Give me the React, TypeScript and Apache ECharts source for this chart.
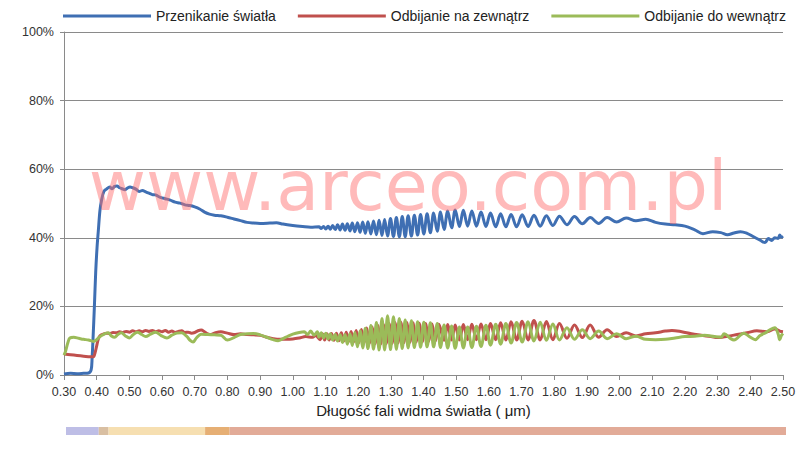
import React, { useEffect, useRef } from "react";
import * as echarts from "echarts";

const seriesNames = ["Przenikanie światła", "Odbijanie na zewnątrz", "Odbijanie do wewnątrz"];
const seriesColors = ["#3F6FB3", "#C0504D", "#9BBB59"];
const yTickLabels = ["0%", "20%", "40%", "60%", "80%", "100%"];
const xAxisTitle = "Długość fali widma światła ( μm)";
const watermark = "www.arceo.com.pl";

// spectrum bands [from, to, colour]
const spectrumBands: [number, number, string][] = [
  [0.30, 0.40, "#BEBEE6"],
  [0.40, 0.43, "#D9BFA2"],
  [0.43, 0.725, "#F6DFB1"],
  [0.725, 0.80, "#E6AF74"],
  [0.80, 2.50, "#E2AB98"],
];

const transmission: number[][] = [
  [0.30,0.3],[0.32,0.5],[0.34,0.4],[0.36,0.5],[0.375,0.6],[0.383,1.5],[0.386,5],[0.389,11],[0.393,20],[0.397,30],[0.401,37],[0.405,42],[0.410,48],[0.415,51],[0.422,53.5],[0.430,54.2],
  [0.440,54.8],[0.447,54.3],[0.455,55],[0.462,55.1],[0.470,54.6],[0.478,54.3],[0.486,54.0],[0.494,54.5],[0.502,54.8],[0.510,54.6],[0.520,54.2],[0.530,53.5],[0.540,53.8],[0.550,53.4],[0.560,53.0],[0.570,52.6],[0.580,52.5],[0.595,51.8],[0.610,51.4],[0.625,51.0],[0.640,50.4],[0.655,50.1],[0.670,49.6],[0.685,49.4],[0.700,49.0],[0.715,48.4],[0.730,47.5],[0.745,46.9],[0.760,46.6],[0.780,46.4],[0.800,46.0],[0.820,45.5],[0.840,45.0],[0.860,44.5],[0.880,44.3],[0.900,44.2],[0.930,44.3],[0.950,44.4],[0.970,44.0],[1.000,43.6],[1.030,43.3],[1.055,43.1],
  [1.080,43.2],[1.087,42.7],[1.094,43.3],[1.101,42.6],[1.108,43.4],[1.115,42.5],[1.122,43.6],[1.130,42.4],[1.137,43.8],[1.145,42.3],[1.152,44.0],[1.160,42.2],[1.167,44.1],[1.175,42.0],[1.182,44.3],[1.190,41.8],[1.198,44.4],[1.206,41.6],[1.214,44.6],[1.222,41.3],[1.230,44.7],[1.239,41.1],[1.247,44.9],[1.256,40.9],[1.264,45.1],[1.273,40.7],[1.281,45.3],[1.290,40.5],[1.299,45.6],[1.308,40.4],[1.317,45.9],[1.326,40.3],[1.335,46.2],[1.344,40.3],[1.353,46.4],[1.363,40.5],[1.372,46.6],[1.382,40.8],[1.391,46.8],[1.401,41.1],[1.411,47.0],[1.421,41.5],[1.431,47.2],[1.442,41.9],[1.452,47.5],[1.463,42.4],[1.474,47.8],[1.486,42.9],[1.497,48.1],[1.510,43.3],[1.522,48.0],[1.535,43.4],[1.548,47.8],[1.562,43.4],[1.576,47.5],[1.591,43.3],[1.605,47.2],[1.621,43.2],[1.636,47.0],[1.652,43.2],[1.668,46.8],[1.685,43.2],[1.702,46.7],[1.720,43.3],[1.738,46.6],[1.757,43.4],[1.776,46.4],[1.796,43.6],[1.816,46.3],[1.839,43.8],[1.862,46.2],[1.886,44.1],[1.910,45.9],[1.936,44.2],[1.962,45.9],[1.991,44.6],[2.020,45.8],[2.050,45.0],[2.080,45.4],
  [2.11,44.5],[2.14,44.0],[2.17,43.8],[2.20,43.4],[2.23,42.3],[2.255,41.2],[2.285,41.8],[2.31,41.5],[2.33,40.9],[2.35,41.4],[2.37,41.8],[2.39,41.3],[2.41,40.3],[2.43,39.3],[2.445,38.6],[2.455,39.8],[2.465,39.2],[2.475,40.0],[2.485,39.8],[2.49,40.8],[2.495,40.2],[2.50,40.5],
];

const reflectionOut: number[][] = [
  [0.30,6.1],[0.32,5.9],[0.34,5.7],[0.36,5.5],[0.38,5.3],[0.39,5.3],[0.395,6.5],[0.40,8.5],[0.405,10.5],[0.41,11.4],[0.42,11.9],[0.43,12.2],[0.44,12.1],[0.45,12.4],[0.46,12.3],[0.47,12.6],[0.48,12.4],[0.49,12.7],[0.50,12.5],[0.51,12.9],[0.52,12.6],[0.53,12.9],[0.54,12.6],[0.55,13.0],[0.56,12.7],[0.57,13.0],[0.58,12.6],[0.59,12.9],[0.60,12.6],[0.61,13.0],[0.62,12.5],[0.63,12.8],[0.64,12.4],[0.65,12.7],[0.66,12.9],[0.67,12.4],[0.68,12.5],[0.69,12.2],[0.70,12.4],[0.71,12.9],[0.72,13.1],[0.73,12.6],[0.74,12.0],[0.75,11.8],[0.76,12.2],[0.78,12.6],[0.80,12.2],[0.82,11.8],[0.84,12.0],[0.86,11.8],[0.88,11.7],[0.90,11.6],[0.92,11.0],[0.94,10.6],[0.96,10.4],[0.98,10.4],[1.00,10.5],[1.02,10.8],[1.04,11.2],[1.06,11.0],[1.07,11.5],
  [1.0835,10.3],[1.0905,12.0],[1.0975,10.2],[1.1045,12.0],[1.1115,10.2],[1.1185,12.1],[1.126,10.1],[1.1335,12.2],[1.141,10.0],[1.1485,12.3],[1.156,9.9],[1.1635,12.5],[1.171,9.8],[1.1785,12.7],[1.186,9.6],[1.194,13.0],[1.202,9.4],[1.210,13.3],[1.218,9.3],[1.226,13.7],[1.2345,9.2],[1.243,14.0],[1.2515,9.1],[1.260,14.4],[1.2685,9.0],[1.277,14.7],[1.2855,9.1],[1.2945,15.0],[1.3035,9.2],[1.3125,15.3],[1.3215,9.3],[1.3305,15.4],[1.3395,9.4],[1.3485,15.3],[1.358,9.5],[1.3675,15.2],[1.377,9.6],[1.3865,15.1],[1.396,9.7],[1.406,15.0],[1.416,9.8],[1.426,14.9],[1.4365,9.9],[1.447,14.8],
  [1.463,10.1],[1.474,14.7],[1.486,10.2],[1.497,14.6],[1.510,10.2],[1.522,14.7],[1.535,10.3],[1.548,14.8],[1.562,10.3],[1.576,14.9],[1.591,10.3],[1.605,15.0],[1.621,10.3],[1.636,15.2],[1.652,10.2],[1.668,15.5],[1.685,10.2],[1.702,15.7],[1.720,10.2],[1.738,15.9],[1.757,10.2],[1.776,15.6],[1.796,10.3],[1.816,15.0],[1.839,10.7],[1.862,14.6],[1.886,10.9],[1.910,14.6],[1.936,11.0],[1.962,13.2],[1.991,11.2],[2.020,12.3],[2.050,11.4],[2.080,12.0],
  [2.11,12.3],[2.14,12.8],[2.16,13.0],[2.19,12.6],[2.22,12.0],[2.25,11.6],[2.28,11.2],[2.30,10.9],[2.33,11.3],[2.36,11.8],[2.39,12.3],[2.42,12.9],[2.45,12.6],[2.475,13.4],[2.49,12.8],[2.50,12.6],
];

const reflectionIn: number[][] = [
  [0.30,5.8],[0.305,7],[0.312,9.5],[0.318,10.8],[0.33,11],[0.345,10.7],[0.36,10.4],[0.375,10.2],[0.39,9.8],[0.40,10.3],[0.41,11.2],[0.42,11.8],[0.435,12.3],[0.445,11.4],[0.455,11.0],[0.465,11.8],[0.475,12.3],[0.488,11.4],[0.50,10.8],[0.512,11.8],[0.525,12.5],[0.538,11.8],[0.55,11.2],[0.565,11.9],[0.58,12.5],[0.597,11.5],[0.615,10.8],[0.63,11.6],[0.645,12.2],[0.66,12.3],[0.675,11.3],[0.687,10.0],[0.695,9.6],[0.705,10.8],[0.72,11.9],[0.74,11.8],[0.76,11.7],[0.78,11.6],[0.80,10.2],[0.82,10.9],[0.84,11.8],[0.86,12.0],[0.88,12.1],[0.90,11.7],[0.92,11.0],[0.94,10.3],[0.955,10.0],[0.97,10.6],[0.985,11.3],[1.00,11.9],[1.02,12.4],[1.035,12.6],[1.045,11.8],[1.055,12.8],[1.065,11.6],[1.075,12.6],
  [1.080,11.0],[1.087,12.3],[1.094,10.8],[1.101,12.2],[1.108,10.5],[1.115,12.0],[1.122,10.2],[1.130,11.8],[1.137,9.9],[1.145,11.7],[1.152,9.5],[1.160,11.8],[1.167,9.0],[1.175,12.0],[1.182,8.6],[1.190,12.4],[1.198,8.2],[1.206,12.9],[1.214,7.9],[1.222,13.6],[1.230,7.7],[1.239,14.4],[1.247,7.5],[1.256,15.3],[1.264,7.3],[1.273,16.5],[1.281,7.3],[1.290,17.3],[1.299,7.4],[1.308,17.0],[1.317,7.5],[1.326,16.5],[1.335,7.7],[1.344,16.0],[1.353,7.9],[1.363,15.8],[1.372,8.0],[1.382,15.5],[1.391,8.1],[1.401,15.4],[1.411,8.2],[1.421,15.2],[1.431,8.2],[1.442,15.0],[1.452,8.0],[1.463,14.6],[1.474,7.9],[1.486,14.3],[1.497,7.8],[1.510,14.0],[1.522,7.9],[1.535,14.0],[1.548,8.0],[1.562,14.2],[1.576,8.3],[1.591,14.5],[1.605,8.7],[1.621,14.8],[1.636,9.0],[1.652,15.0],[1.668,9.3],[1.685,15.3],[1.702,9.6],[1.720,15.5],[1.738,9.9],[1.757,15.4],[1.776,10.1],[1.796,14.9],[1.816,10.2],[1.839,13.8],[1.862,10.4],[1.886,13.2],[1.910,10.6],[1.936,12.8],[1.962,10.6],[1.991,12.0],[2.020,10.6],[2.050,11.3],[2.080,10.4],
  [2.11,10.3],[2.14,10.4],[2.17,10.8],[2.20,11.2],[2.23,11.3],[2.26,11.6],[2.29,11.2],[2.31,11.0],[2.32,12.0],[2.34,10.6],[2.35,10.2],[2.38,12.2],[2.40,11.0],[2.415,10.3],[2.43,11.5],[2.45,12.5],[2.46,13.2],[2.475,13.8],[2.485,12.0],[2.49,10.3],[2.495,11.5],[2.50,12.1],
];

const FONT = "'Liberation Sans Narrow', 'Liberation Sans', Arial, sans-serif";

export default function App() {
  const ref = useRef<HTMLDivElement>(null);
  useEffect(() => {
    document.body.style.margin = "0";
    if (!ref.current) return;
    const chart = echarts.init(ref.current, undefined, { renderer: "svg" });
    const allData = [transmission, reflectionOut, reflectionIn];
    chart.setOption({
      animation: false,
      backgroundColor: "#ffffff",
      textStyle: { fontFamily: FONT },
      legend: {
        left: 63,
        top: 9,
        width: 741,
        icon: "rect",
        itemWidth: 88,
        itemHeight: 3,
        itemGap: 22,
        padding: 0,
        textStyle: { fontSize: 14, color: "#222", fontFamily: FONT },
        data: seriesNames,
      },
      grid: [
        { left: 64, right: 21, top: 32, bottom: 75, containLabel: false },
        { left: 66, right: 18, top: 427, height: 8, containLabel: false },
      ],
      xAxis: [
        {
          type: "value",
          gridIndex: 0,
          min: 0.3,
          max: 2.5,
          interval: 0.1,
          name: xAxisTitle,
          nameLocation: "middle",
          nameGap: 28,
          nameTextStyle: { fontSize: 15, color: "#222", fontFamily: FONT },
          axisLine: { show: true, lineStyle: { color: "#8a8a8a", width: 1 } },
          axisTick: { show: true, length: 5, lineStyle: { color: "#8a8a8a" } },
          axisLabel: {
            fontSize: 12.5,
            color: "#333",
            margin: 10,
            formatter: (v: number) => v.toFixed(2),
          },
          splitLine: { show: false },
        },
        {
          type: "value",
          gridIndex: 1,
          min: 0.3,
          max: 2.5,
          show: false,
        },
      ],
      yAxis: [
        {
          type: "value",
          gridIndex: 0,
          min: 0,
          max: 100,
          interval: 20,
          axisLine: { show: true, lineStyle: { color: "#8a8a8a", width: 1 } },
          axisTick: { show: true, length: 4, lineStyle: { color: "#8a8a8a" } },
          axisLabel: {
            fontSize: 12.5,
            color: "#333",
            margin: 10,
            formatter: (v: number) => yTickLabels[Math.round(v / 20)],
          },
          splitLine: { show: true, lineStyle: { color: "#8a8a8a", width: 1 } },
        },
        { type: "value", gridIndex: 1, min: 0, max: 1, show: false },
      ],
      series: [
        ...allData.map((d, i) => ({
          name: seriesNames[i],
          type: "line",
          xAxisIndex: 0,
          yAxisIndex: 0,
          data: d,
          showSymbol: false,
          smooth: 0.35,
          lineStyle: { color: seriesColors[i], width: 3 },
          itemStyle: { color: seriesColors[i] },
          z: 3 + i,
        })),
        {
          name: "spectrum",
          type: "line",
          xAxisIndex: 1,
          yAxisIndex: 1,
          data: [],
          silent: true,
          markArea: {
            silent: true,
            data: spectrumBands.map(([a, b, c]) => [
              { xAxis: a, yAxis: 0, itemStyle: { color: c, opacity: 1 } },
              { xAxis: b, yAxis: 1 },
            ]),
          },
        },
      ],
      graphic: [
        {
          type: "text",
          x: 408,
          y: 186,
          z: 100,
          silent: true,
          style: {
            text: watermark,
            font: "70px 'DejaVu Sans', Verdana, sans-serif",
            fill: "rgba(255,110,110,0.48)",
            textAlign: "center",
            textVerticalAlign: "middle",
          },
        },
      ],
    });
    return () => chart.dispose();
  }, []);
  return <div ref={ref} style={{ width: 804, height: 450 }} />;
}
